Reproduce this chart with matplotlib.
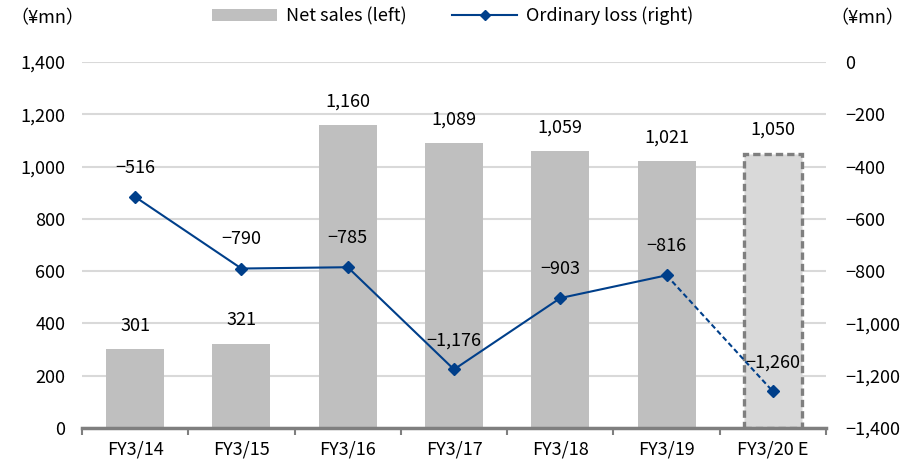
"""
Net sales (bars, left axis) and ordinary loss (line, right axis), FY3/14 - FY3/20 E
"""

import numpy as np
import matplotlib
matplotlib.use('Agg')
import matplotlib.pyplot as plt
from matplotlib.patches import Patch
from matplotlib.lines import Line2D

# data
categories    = ['FY3/14', 'FY3/15', 'FY3/16', 'FY3/17', 'FY3/18', 'FY3/19', 'FY3/20 E']
net_sales     = [301, 321, 1160, 1089, 1059, 1021, 1050]
ordinary_loss = [-516, -790, -785, -1176, -903, -816, -1260]
left_ticks    = [0, 200, 400, 600, 800, 1000, 1200, 1400]
right_ticks   = [0, -200, -400, -600, -800, -1000, -1200, -1400]

# figure parameters (pixels at dpi 100)
W, H   = 906, 466
ax_l   = 82
ax_r   = 826
ax_t   = 62
ax_b   = 428
ftsize = 13

bar_grey   = '#BFBFBF'
est_fill   = '#D9D9D9'
est_edge   = '#7F7F7F'
line_blue  = '#003F8A'
grid_grey  = '#D9D9D9'

plt.rcParams['font.family'] = ['Noto Sans CJK JP', 'DejaVu Sans']
plt.rcParams['axes.unicode_minus'] = True

fig = plt.figure(figsize=(W / 100., H / 100.), dpi=100)
ax = fig.add_axes([ax_l / W, 1 - ax_b / H, (ax_r - ax_l) / W, (ax_b - ax_t) / H])
ax2 = ax.twinx()

x = np.arange(len(categories))
n_act = len(categories) - 1

# bars
ax.bar(x[:n_act], net_sales[:n_act], width=0.545, color=bar_grey, zorder=2)
ax.bar(x[n_act], net_sales[n_act], width=0.545, color=est_fill,
       edgecolor=est_edge, linewidth=2.4, linestyle=(0, (2.2, 1.2)), zorder=2)
for xi, v in zip(x, net_sales):
    ax.annotate('{:,}'.format(v), (xi, v), xytext=(0, 17), textcoords='offset points',
                ha='center', va='center', fontsize=ftsize)

ax.set_ylim(0, 1400)
ax.set_yticks(left_ticks)
ax.set_yticklabels(['{:,}'.format(t) for t in left_ticks], fontsize=ftsize)
ax.tick_params(axis='y', length=0, pad=12)
ax.grid(axis='y', color=grid_grey, linewidth=1.5, zorder=0)
ax.set_axisbelow(True)

ax.set_xlim(-0.5, len(categories) - 0.5)
ax.set_xticks(x)
ax.set_xticklabels(categories, fontsize=ftsize)
ax.set_xticks(np.arange(-0.5, len(categories)), minor=True)
ax.tick_params(axis='x', which='major', length=0, pad=9)
ax.tick_params(axis='x', which='minor', length=5, width=1.5, color=est_edge)

for s in ['top', 'left', 'right']:
    ax.spines[s].set_visible(False)
ax.spines['bottom'].set_color(est_edge)
ax.spines['bottom'].set_linewidth(2.5)
ax.spines['bottom'].set_zorder(5)

# line
ax2.plot(x[:n_act], ordinary_loss[:n_act], color=line_blue, linewidth=1.5,
         marker='D', markersize=6.5, zorder=4)
ax2.plot(x[n_act - 1:], ordinary_loss[n_act - 1:], color=line_blue, linewidth=1.5,
         linestyle=(0, (2.5, 1.5)), marker='D', markersize=6.5, markevery=[1], zorder=4)
for xi, v in zip(x, ordinary_loss):
    ax2.annotate('{:,}'.format(v).replace('-', '\u2212'), (xi, v), xytext=(0, 21),
                 textcoords='offset points', ha='center', va='center', fontsize=ftsize)

ax2.set_ylim(-1400, 0)
ax2.set_yticks(right_ticks)
ax2.set_yticklabels(['{:,}'.format(t).replace('-', '\u2212') for t in right_ticks],
                    fontsize=ftsize)
ax2.tick_params(axis='y', length=0, pad=14)
for s in ['top', 'left', 'right', 'bottom']:
    ax2.spines[s].set_visible(False)

# units
fig.text(10 / W, 1 - 18 / H, '（¥mn）', fontsize=ftsize, ha='left', va='center')
fig.text(830 / W, 1 - 18 / H, '（¥mn）', fontsize=ftsize, ha='left', va='center')

# legend
handles = [Patch(facecolor=bar_grey, edgecolor='none'),
           Line2D([0], [0], color=line_blue, linewidth=1.5, marker='D', markersize=5)]
fig.legend(handles, ['Net sales (left)', 'Ordinary loss (right)'],
           loc='center', bbox_to_anchor=(0.5, 1 - 16 / H), ncol=2, frameon=False,
           fontsize=ftsize, handlelength=3.6, handleheight=0.6, columnspacing=2.5,
           handletextpad=0.5)

fig.savefig('out.png', dpi=100)
